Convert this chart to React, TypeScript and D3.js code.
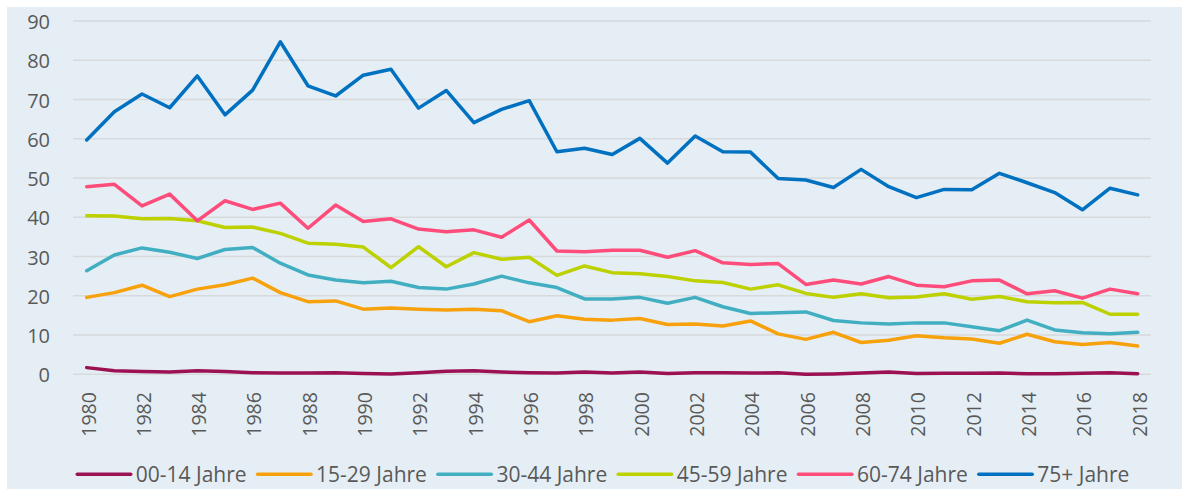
import React from "react";
import * as d3 from "d3";

const years: number[] = d3.range(1980, 2019);
const seriesNames = ["00-14 Jahre", "15-29 Jahre", "30-44 Jahre", "45-59 Jahre", "60-74 Jahre", "75+ Jahre"];
const seriesColors = ["#9c1154", "#f7a10d", "#41afc1", "#bdd000", "#ff4d7b", "#0071c1"];

const age00_14 = [1.7, 0.9, 0.7, 0.6, 0.9, 0.7, 0.4, 0.3, 0.3, 0.4, 0.2, 0.1, 0.4, 0.8, 0.9, 0.6, 0.4, 0.3, 0.6, 0.3, 0.6, 0.2, 0.4, 0.4, 0.3, 0.4, 0.0, 0.1, 0.3, 0.6, 0.2, 0.25, 0.25, 0.3, 0.15, 0.15, 0.25, 0.4, 0.15];
const age15_29 = [19.6, 20.8, 22.7, 19.8, 21.7, 22.8, 24.5, 20.8, 18.5, 18.7, 16.6, 16.9, 16.6, 16.4, 16.6, 16.2, 13.4, 14.9, 14.0, 13.8, 14.2, 12.7, 12.8, 12.3, 13.6, 10.3, 8.9, 10.7, 8.1, 8.7, 9.8, 9.3, 9.0, 7.9, 10.2, 8.3, 7.6, 8.1, 7.2];
const age30_44 = [26.4, 30.4, 32.2, 31.1, 29.5, 31.8, 32.3, 28.3, 25.3, 24.0, 23.3, 23.7, 22.1, 21.7, 23.0, 25.0, 23.3, 22.1, 19.2, 19.2, 19.6, 18.1, 19.6, 17.2, 15.5, 15.7, 15.9, 13.7, 13.1, 12.8, 13.1, 13.1, 12.1, 11.1, 13.8, 11.3, 10.6, 10.3, 10.7];
const age45_59 = [40.4, 40.3, 39.6, 39.7, 39.1, 37.4, 37.5, 35.9, 33.4, 33.1, 32.4, 27.2, 32.5, 27.4, 31.0, 29.3, 29.8, 25.2, 27.6, 25.9, 25.6, 24.9, 23.8, 23.4, 21.7, 22.8, 20.6, 19.6, 20.5, 19.5, 19.7, 20.5, 19.1, 19.8, 18.5, 18.2, 18.3, 15.3, 15.3];
const age60_74 = [47.8, 48.4, 42.9, 45.9, 39.1, 44.2, 42.0, 43.6, 37.2, 43.1, 38.9, 39.6, 37.0, 36.3, 36.8, 34.9, 39.3, 31.4, 31.2, 31.6, 31.6, 29.8, 31.5, 28.4, 28.0, 28.2, 22.9, 24.0, 23.0, 24.9, 22.7, 22.3, 23.8, 24.0, 20.5, 21.3, 19.4, 21.7, 20.5];
const age75plus = [59.7, 66.9, 71.4, 67.9, 76.0, 66.1, 72.4, 84.7, 73.5, 70.9, 76.2, 77.7, 67.8, 72.3, 64.1, 67.5, 69.7, 56.7, 57.6, 56.0, 60.1, 53.8, 60.7, 56.7, 56.6, 49.9, 49.5, 47.6, 52.2, 47.8, 45.0, 47.1, 47.0, 51.2, 48.8, 46.3, 41.9, 47.4, 45.7];
const yTicks = [0, 10, 20, 30, 40, 50, 60, 70, 80, 90];
const xTickYears = d3.range(1980, 2019, 2);

const seriesValues = [age00_14, age15_29, age30_44, age45_59, age60_74, age75plus];

const W = 1182;
const H = 489;
const FONT = "'Open Sans', sans-serif";

export default function App() {
  const x = d3.scaleLinear().domain([1980, 2018]).range([86.7, 1137.7]);
  const y = d3.scaleLinear().domain([0, 90]).range([374.3, 21]);
  const line = d3
    .line<number>()
    .x((_, i) => x(years[i]))
    .y((v) => y(v));

  const legendX = d3.scaleLinear().domain([0, 1]).range([77.3, 257.6]);

  return (
    <svg width={W} height={H} style={{ position: "absolute", left: 0, top: 0 }}>
      <rect x={0} y={0} width={W} height={H} fill="#ffffff" />
      <rect x={7} y={7} width={W - 7} height={H - 7} fill="#e5eef4" />
      {yTicks.map((t) => (
        <g key={t}>
          <line x1={73} x2={1151} y1={y(t)} y2={y(t)} stroke="#d7d9db" strokeWidth={1.5} />
          <text x={50} y={y(t)} dy="0.4em" textAnchor="end" fontFamily={FONT} fontSize={20} fill="#595959">
            {t}
          </text>
        </g>
      ))}
      {xTickYears.map((yr) => (
        <text
          key={yr}
          transform={`translate(${x(yr)},392) rotate(-90)`}
          dy="0.45em"
          textAnchor="end"
          fontFamily={FONT}
          fontSize={19.6}
          fill="#595959"
        >
          {yr}
        </text>
      ))}
      {seriesValues.map((vals, si) => (
        <path
          key={si}
          d={line(vals) || ""}
          fill="none"
          stroke={seriesColors[si]}
          strokeWidth={3.5}
          strokeLinejoin="round"
          strokeLinecap="round"
        />
      ))}
      {seriesNames.map((name, si) => (
        <g key={name}>
          <line
            x1={legendX(si)}
            x2={legendX(si) + 53.4}
            y1={474.3}
            y2={474.3}
            stroke={seriesColors[si]}
            strokeWidth={3.5}
            strokeLinecap="round"
          />
          <text x={legendX(si) + 58.5} y={474.3} dy="0.35em" fontFamily={FONT} fontSize={21} fill="#595959">
            {name}
          </text>
        </g>
      ))}
    </svg>
  );
}
